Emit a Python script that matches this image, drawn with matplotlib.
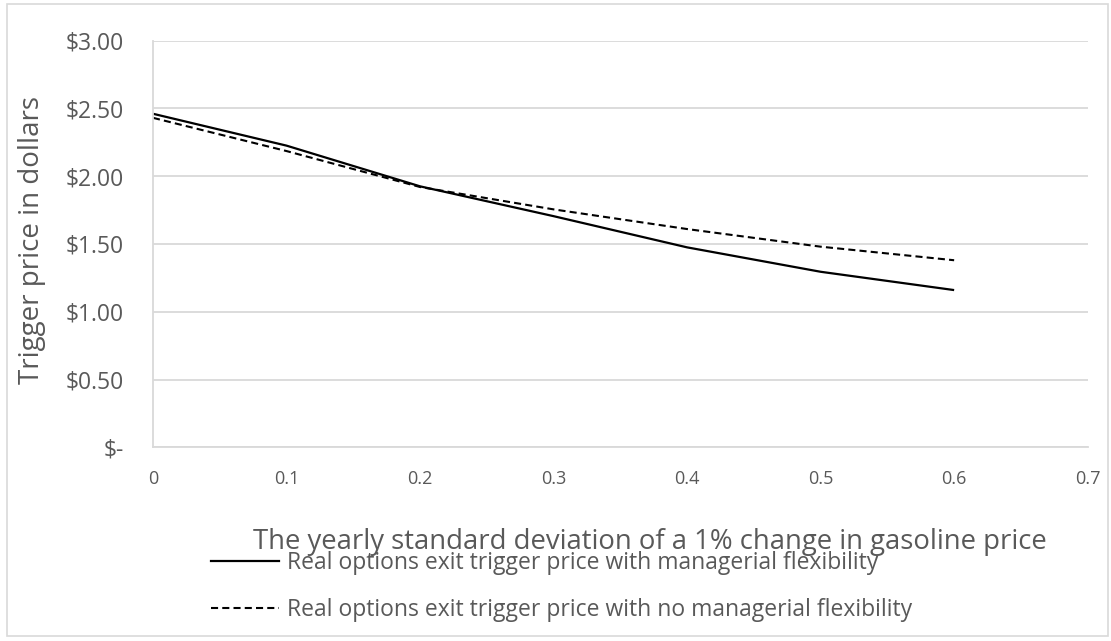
import matplotlib
matplotlib.use("Agg")
import matplotlib.pyplot as plt
from matplotlib.patches import Rectangle
from matplotlib.lines import Line2D

# yearly std dev of gasoline price changes
sigma = [0.0, 0.1, 0.2, 0.3, 0.4, 0.5, 0.6]
# trigger price with managerial flexibility (solid)
with_flex = [2.46, 2.225, 1.925, 1.705, 1.475, 1.295, 1.16]
# trigger price with no managerial flexibility (dashed)
no_flex = [2.43, 2.185, 1.92, 1.755, 1.61, 1.48, 1.38]

y_ticks = [0.0, 0.5, 1.0, 1.5, 2.0, 2.5, 3.0]
y_ticklabels = ["$-", "$0.50", "$1.00", "$1.50", "$2.00", "$2.50", "$3.00"]
x_ticks = [0, 0.1, 0.2, 0.3, 0.4, 0.5, 0.6, 0.7]
x_ticklabels = ["0", "0.1", "0.2", "0.3", "0.4", "0.5", "0.6", "0.7"]

label_with = "Real options exit trigger price with managerial flexibility"
label_no = "Real options exit trigger price with no managerial flexibility"

plt.rcParams['font.family'] = ['Open Sans', 'DejaVu Sans']
grey = "#595959"
grid_c = "#d9d9d9"

fig = plt.figure(figsize=(11.11, 6.41), dpi=100)
ax = fig.add_axes([0.1377, 0.302, 0.8413, 0.6348])

ax.plot(sigma, with_flex, color="black", lw=1.6, solid_capstyle="butt")
ax.plot(sigma, no_flex, color="black", lw=1.5, dashes=(3.4, 2.0))

ax.set_xlim(0, 0.7)
ax.set_ylim(0, 3.0)
ax.set_yticks(y_ticks)
ax.set_yticklabels(y_ticklabels, fontsize=16.5, color=grey)
ax.set_xticks(x_ticks)
ax.set_xticklabels(x_ticklabels, fontsize=13, color=grey)
ax.tick_params(axis="both", length=0)
ax.tick_params(axis="y", pad=21)
ax.tick_params(axis="x", pad=16)

ax.grid(axis="y", color=grid_c, lw=1.3)
ax.set_axisbelow(True)
for s in ["top", "right"]:
    ax.spines[s].set_visible(False)
for s in ["left", "bottom"]:
    ax.spines[s].set_color(grid_c)
    ax.spines[s].set_linewidth(1.3)

fig.text(0.029, 0.625, "Trigger price in dollars", rotation=90,
         ha="center", va="center", fontsize=20, color=grey)
fig.text(0.585, 0.155, "The yearly standard deviation of a 1% change in gasoline price",
         ha="center", va="center", fontsize=19.8, color=grey)

handles = [Line2D([], [], color="black", lw=1.6),
           Line2D([], [], color="black", lw=1.5, dashes=(3.4, 2.0))]
leg = fig.legend(handles, [label_with, label_no], loc="upper left",
                 bbox_to_anchor=(0.19, 0.14), frameon=False, fontsize=16.5,
                 labelcolor=grey, handlelength=2.95, handletextpad=0.35,
                 labelspacing=1.0, borderaxespad=0, borderpad=0)

fig.patches.append(Rectangle((0.006, 0.008), 0.991, 0.985, transform=fig.transFigure,
                             fill=False, edgecolor=grid_c, lw=1.2))

fig.savefig("out.png", dpi=100)
